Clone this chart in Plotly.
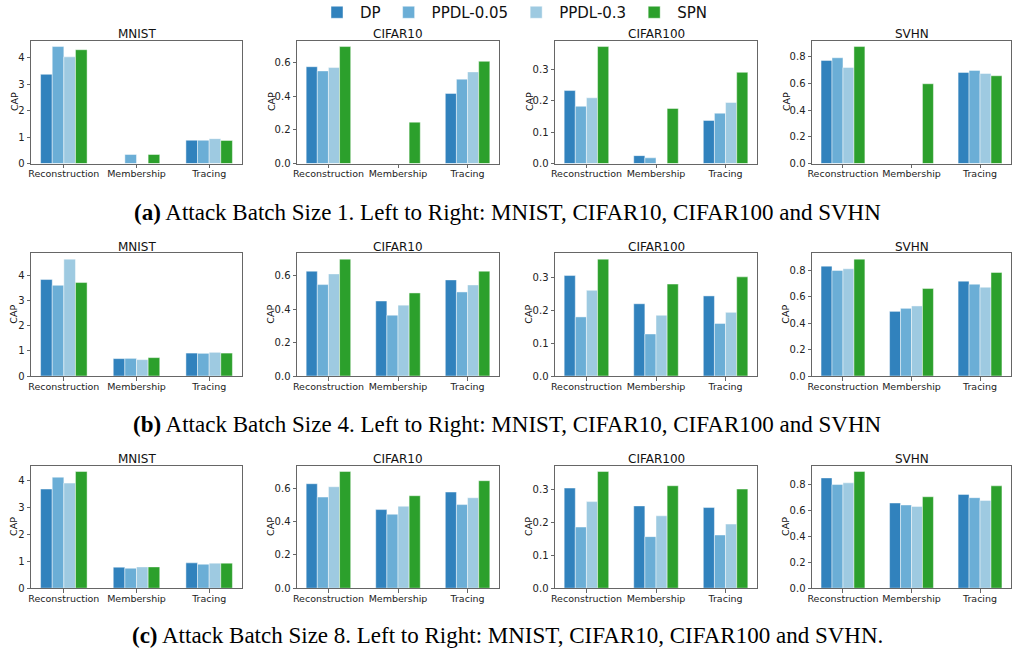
import plotly.graph_objects as go
from plotly.subplots import make_subplots

# the page is 1013x656; a post-script removes the default 8px body margin
W, H = 1013, 656

categories = ["Reconstruction", "Membership", "Tracing"]
methods = ["DP", "PPDL-0.05", "PPDL-0.3", "SPN"]
colors = ["#3182bd", "#6baed6", "#9ecae1", "#2ca02c"]
datasets = ["MNIST", "CIFAR10", "CIFAR100", "SVHN"]

# rows: method (DP, PPDL-0.05, PPDL-0.3, SPN); cols: Reconstruction, Membership, Tracing
bs1_mnist = [[3.37, 0.0, 0.88], [4.42, 0.34, 0.88], [4.03, 0.0, 0.94], [4.30, 0.34, 0.87]]
bs1_cifar10 = [[0.576, 0.0, 0.417], [0.551, 0.0, 0.502], [0.571, 0.0, 0.545], [0.696, 0.246, 0.608]]
bs1_cifar100 = [[0.232, 0.025, 0.137], [0.182, 0.018, 0.160], [0.209, 0.0, 0.194], [0.372, 0.175, 0.290]]
bs1_svhn = [[0.773, 0.0, 0.683], [0.793, 0.0, 0.698], [0.720, 0.0, 0.675], [0.877, 0.598, 0.658]]

bs4_mnist = [[3.83, 0.69, 0.91], [3.60, 0.70, 0.90], [4.64, 0.65, 0.94], [3.71, 0.73, 0.91]]
bs4_cifar10 = [[0.626, 0.448, 0.574], [0.546, 0.363, 0.502], [0.610, 0.423, 0.544], [0.698, 0.496, 0.626]]
bs4_cifar100 = [[0.306, 0.220, 0.244], [0.180, 0.128, 0.160], [0.261, 0.185, 0.194], [0.356, 0.280, 0.302]]
bs4_svhn = [[0.833, 0.490, 0.719], [0.800, 0.513, 0.696], [0.813, 0.531, 0.673], [0.886, 0.663, 0.785]]

bs8_mnist = [[3.68, 0.78, 0.94], [4.12, 0.74, 0.89], [3.90, 0.79, 0.93], [4.33, 0.79, 0.93]]
bs8_cifar10 = [[0.626, 0.471, 0.576], [0.546, 0.443, 0.501], [0.608, 0.491, 0.542], [0.699, 0.554, 0.644]]
bs8_cifar100 = [[0.303, 0.249, 0.244], [0.185, 0.156, 0.161], [0.262, 0.219, 0.194], [0.353, 0.310, 0.300]]
bs8_svhn = [[0.848, 0.655, 0.721], [0.797, 0.640, 0.696], [0.810, 0.629, 0.675], [0.897, 0.703, 0.787]]

panels = [
    [bs1_mnist, bs1_cifar10, bs1_cifar100, bs1_svhn],
    [bs4_mnist, bs4_cifar10, bs4_cifar100, bs4_svhn],
    [bs8_mnist, bs8_cifar10, bs8_cifar100, bs8_svhn],
]
ydticks = [1, 0.2, 0.1, 0.2]
yformats = ["d", ".1f", ".1f", ".1f"]

captions = [
    ("(a)", "Attack Batch Size 1. Left to Right: MNIST, CIFAR10, CIFAR100 and SVHN"),
    ("(b)", "Attack Batch Size 4. Left to Right: MNIST, CIFAR10, CIFAR100 and SVHN"),
    ("(c)", "Attack Batch Size 8. Left to Right: MNIST, CIFAR10, CIFAR100 and SVHN."),
]

# layout geometry in page pixels
col_x = [(31, 242), (297, 499), (555, 757), (812, 1011)]
row_y = [(40.7, 163.5), (253.3, 376.0), (465.7, 588.2)]
cap_x = [14, 271, 529, 786]
caption_y = [212, 424, 635]

def fx(p):
    return p / W

def fy(p):
    return 1 - p / H

fig = make_subplots(rows=3, cols=4)

axis_style = dict(
    showline=True, mirror=True, linecolor="#666", linewidth=1,
    ticks="outside", ticklen=3.5, tickcolor="#666",
    showgrid=False, zeroline=False, automargin=False,
)

for r in range(3):
    for c in range(4):
        data = panels[r][c]
        for m in range(4):
            fig.add_trace(
                go.Bar(
                    x=categories,
                    y=data[m],
                    name=methods[m],
                    marker=dict(color=colors[m], line=dict(color="rgba(255,255,255,0.45)", width=1)),
                    showlegend=(r == 0 and c == 0),
                    legendgroup=methods[m],
                ),
                row=r + 1,
                col=c + 1,
            )
        ymax = max(max(v) for v in data) * 1.05
        idx = r * 4 + c + 1
        xa = "xaxis" if idx == 1 else f"xaxis{idx}"
        ya = "yaxis" if idx == 1 else f"yaxis{idx}"
        fig.layout[xa].update(
            domain=[fx(col_x[c][0]), fx(col_x[c][1])],
            range=[-0.452, 2.452], tickangle=0, ticklabelstandoff=-2,
            tickfont=dict(family="DejaVu Sans", size=9.5, color="#222"),
            **axis_style,
        )
        fig.layout[ya].update(
            domain=[fy(row_y[r][1]), fy(row_y[r][0])],
            range=[0, ymax],
            dtick=ydticks[c], tick0=0, tickformat=yformats[c],
            tickfont=dict(family="DejaVu Sans", size=10, color="#222"),
            **axis_style,
        )
        # subplot title
        fig.add_annotation(
            x=fx((col_x[c][0] + col_x[c][1]) / 2), y=fy(row_y[r][0] - 6.5),
            xref="paper", yref="paper", xanchor="center", yanchor="middle",
            text=datasets[c], showarrow=False,
            font=dict(family="DejaVu Sans", size=12, color="#111"),
        )
        # y-axis label
        fig.add_annotation(
            x=fx(cap_x[c]), y=fy((row_y[r][0] + row_y[r][1]) / 2),
            xref="paper", yref="paper", xanchor="center", yanchor="middle",
            text="CAP", textangle=-90, showarrow=False,
            font=dict(family="DejaVu Sans", size=9.5, color="#111"),
        )

for r in range(3):
    tag, txt = captions[r]
    fig.add_annotation(
        x=fx(507), y=fy(caption_y[r]), xref="paper", yref="paper",
        xanchor="center", yanchor="middle", showarrow=False,
        text=f"<b>{tag}</b> {txt}",
        font=dict(family="Liberation Serif", size=23, color="#000"),
    )

fig.update_layout(
    width=W, height=H,
    margin=dict(l=0, r=0, t=0, b=0, autoexpand=False),
    paper_bgcolor="white", plot_bgcolor="white",
    barmode="group", bargap=0.36, bargroupgap=0,
    legend=dict(
        orientation="h", x=fx(513), xanchor="center", y=fy(-4), yanchor="top",
        font=dict(family="DejaVu Sans", size=15, color="#111"),
        bgcolor="rgba(0,0,0,0)", itemwidth=36,
    ),
)

fig.write_html(
    "out.html",
    config={"displayModeBar": False},
    post_script="document.body.style.margin='0';document.body.style.overflow='hidden';",
)
